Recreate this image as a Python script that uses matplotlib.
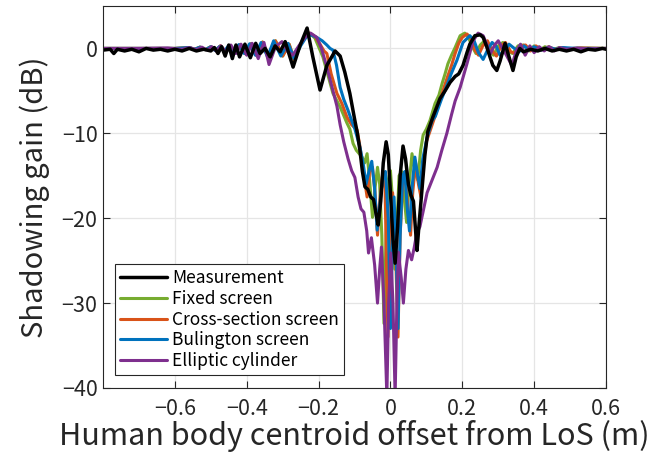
import matplotlib
matplotlib.use("Agg")
import matplotlib.pyplot as plt

plt.rcParams['font.family'] = ['Noto Sans CJK JP', 'DejaVu Sans']

# Measurement (black)
meas_x = [-0.80, -0.78, -0.77, -0.76, -0.74, -0.72, -0.70, -0.68, -0.66, -0.64, -0.62, -0.60,
          -0.58, -0.56, -0.54, -0.52, -0.50, -0.49, -0.48, -0.47, -0.46, -0.45, -0.44, -0.43,
          -0.42, -0.405, -0.39, -0.375, -0.363, -0.349, -0.335, -0.321, -0.307, -0.293, -0.271,
          -0.252, -0.232, -0.216, -0.196, -0.177, -0.154, -0.140, -0.127, -0.113, -0.099, -0.092,
          -0.085, -0.078, -0.071, -0.063, -0.055, -0.047, -0.040, -0.034, -0.027, -0.020, -0.012,
          -0.006, 0.000, 0.007, 0.013, 0.020, 0.027, 0.035, 0.042, 0.050, 0.057, 0.064, 0.070,
          0.074, 0.080, 0.088, 0.096, 0.104, 0.118, 0.138, 0.152, 0.166, 0.180, 0.190, 0.202,
          0.213, 0.221, 0.235, 0.250, 0.258, 0.268, 0.277, 0.285, 0.296, 0.305, 0.319, 0.330,
          0.341, 0.350, 0.360, 0.370, 0.39, 0.41, 0.43, 0.45, 0.47, 0.49, 0.51, 0.53, 0.55,
          0.57, 0.59, 0.60]
meas_y = [-0.2, -0.1, -0.6, -0.1, -0.3, -0.1, -0.4, 0.0, -0.2, -0.1, -0.3, -0.1,
          -0.3, 0.0, -0.3, -0.1, -0.3, 0.1, -0.6, 0.2, -0.9, 0.4, -1.2, 0.4,
          -1.0, 0.5, -1.1, 0.6, -0.6, 0.0, -1.0, 0.3, -0.4, 0.8, -2.2,
          0.3, 2.4, -1.0, -4.9, -2.0, -0.3, -0.9, -2.8, -5.3, -8.5, -10.0,
          -12.0, -14.5, -16.3, -16.6, -17.5, -17.8, -19.5, -20.8, -18.0, -13.5, -11.0,
          -12.5, -17.0, -22.5, -25.3, -21.0, -15.0, -11.5, -13.0, -16.0, -17.3, -18.0, -21.5,
          -23.8, -20.5, -16.5, -12.5, -9.8, -8.1, -5.9, -5.0, -4.0, -3.3, -3.0, -2.0,
          -0.5, 0.5, 1.5, 1.6, 1.3, 0.2, -1.0, -2.0, -2.6, -1.5, 0.6, -1.0,
          -2.6, -1.0, 0.0, -0.4, -0.1, -0.3, 0.0, -0.3, -0.1, -0.3, -0.1, -0.4, -0.1,
          -0.2, 0.0, -0.1]

# Fixed screen (green)
fixed_x = [-0.80, -0.60, -0.56, -0.545, -0.53, -0.515, -0.50, -0.487, -0.473, -0.46, -0.447,
           -0.433, -0.418, -0.403, -0.388, -0.372, -0.356, -0.338, -0.32, -0.30, -0.282, -0.268,
           -0.252, -0.238, -0.225, -0.21, -0.196, -0.188, -0.175, -0.16, -0.14, -0.121, -0.113,
           -0.104, -0.095, -0.085, -0.079, -0.072, -0.065, -0.058, -0.050, -0.043, -0.036, -0.030,
           -0.024, -0.018, -0.012, -0.006, 0.000, 0.006, 0.012, 0.018, 0.024, 0.031, 0.038,
           0.045, 0.052, 0.060, 0.068, 0.076, 0.084, 0.091, 0.100, 0.110, 0.124, 0.135, 0.144,
           0.152, 0.160, 0.170, 0.180, 0.194, 0.207, 0.216, 0.228, 0.238, 0.250, 0.262, 0.275,
           0.287, 0.300, 0.313, 0.327, 0.340, 0.355, 0.370, 0.385, 0.40, 0.415, 0.43, 0.45,
           0.47, 0.49, 0.52, 0.60]
fixed_y = [0.0, 0.0, 0.1, -0.1, 0.15, -0.15, 0.2, -0.25, 0.3, -0.35, 0.35,
           -0.5, 0.45, -0.65, 0.55, -0.85, 0.75, -1.0, 0.9, -0.9, 0.5, -1.3,
           0.3, 1.4, 1.8, 1.2, -0.2, -1.0, -3.0, -5.3, -6.9, -8.8, -9.5,
           -11.2, -12.0, -12.5, -12.8, -13.5, -12.4, -15.5, -19.9, -16.5, -14.0, -16.0,
           -22.0, -32.4, -22.0, -15.5, -14.4, -18.0, -26.0, -21.0, -15.0, -14.5, -17.5,
           -20.5, -16.0, -12.4, -14.5, -15.5, -12.0, -10.2, -9.5, -8.5, -6.5, -5.5, -4.1,
           -3.0, -1.8, -0.8, 0.1, 1.5, 1.8, 1.4, 0.2, -0.6, 0.4, 0.9, -0.3,
           -0.8, 0.3, 0.7, -0.3, -0.6, 0.3, 0.4, -0.3, 0.3, -0.2, 0.2, -0.15,
           0.1, -0.1, 0.05, 0.0]

# Cross-section screen (orange)
cross_x = [-0.80, -0.60, -0.56, -0.545, -0.53, -0.515, -0.50, -0.487, -0.473, -0.46, -0.447,
           -0.433, -0.418, -0.403, -0.388, -0.372, -0.356, -0.338, -0.32, -0.30, -0.282, -0.268,
           -0.252, -0.238, -0.225, -0.21, -0.196, -0.185, -0.177, -0.165, -0.149, -0.135, -0.121,
           -0.108, -0.093, -0.085, -0.076, -0.065, -0.058, -0.050, -0.043, -0.036, -0.030, -0.022,
           -0.015, -0.007, -0.002, 0.006, 0.013, 0.021, 0.027, 0.034, 0.042, 0.050, 0.056,
           0.062, 0.070, 0.078, 0.085, 0.092, 0.100, 0.112, 0.124, 0.135, 0.150, 0.160, 0.170,
           0.180, 0.190, 0.200, 0.213, 0.224, 0.235, 0.245, 0.257, 0.270, 0.282, 0.295, 0.308,
           0.320, 0.335, 0.348, 0.362, 0.376, 0.39, 0.405, 0.42, 0.44, 0.46, 0.48, 0.50,
           0.53, 0.60]
cross_y = [0.0, 0.0, 0.1, -0.1, 0.15, -0.15, 0.2, -0.25, 0.3, -0.35, 0.35,
           -0.5, 0.45, -0.65, 0.55, -0.85, 0.75, -1.0, 0.9, -0.9, 0.5, -1.3,
           0.3, 1.4, 1.8, 1.4, 0.5, -0.3, -0.6, -3.0, -5.3, -6.5, -8.1,
           -9.0, -9.6, -11.5, -14.3, -17.5, -14.5, -14.0, -17.0, -22.0, -18.0, -15.0,
           -16.5, -34.0, -22.0, -17.0, -22.0, -34.0, -22.0, -16.0, -15.5, -19.5, -22.0,
           -17.0, -13.5, -16.0, -17.5, -13.5, -11.0, -9.5, -8.0, -6.5, -4.5, -3.2, -2.0,
           -0.6, 0.6, 1.3, 1.7, 1.2, -0.2, -0.8, 0.3, 0.9, -0.2, -0.9, 0.3,
           0.7, -0.4, -0.6, 0.3, 0.4, -0.3, 0.3, -0.2, 0.2, -0.15, 0.1, -0.1,
           0.05, 0.0]

# Bulington screen (blue)
bul_x = [-0.80, -0.60, -0.56, -0.545, -0.53, -0.515, -0.50, -0.488, -0.475, -0.462, -0.45,
         -0.436, -0.422, -0.407, -0.392, -0.376, -0.360, -0.342, -0.325, -0.305, -0.285, -0.268,
         -0.250, -0.235, -0.222, -0.205, -0.19, -0.177, -0.168, -0.16, -0.150, -0.140, -0.130,
         -0.118, -0.108, -0.099, -0.093, -0.085, -0.075, -0.068, -0.060, -0.052, -0.044, -0.037,
         -0.030, -0.022, -0.014, -0.006, 0.000, 0.005, 0.010, 0.016, 0.021, 0.027, 0.034,
         0.040, 0.047, 0.053, 0.060, 0.068, 0.076, 0.082, 0.090, 0.102, 0.116, 0.125, 0.141,
         0.155, 0.169, 0.185, 0.202, 0.221, 0.232, 0.245, 0.258, 0.270, 0.283, 0.295, 0.305,
         0.318, 0.330, 0.345, 0.358, 0.372, 0.386, 0.40, 0.42, 0.44, 0.46, 0.48, 0.52, 0.60]
bul_y = [0.0, 0.0, 0.1, -0.1, 0.15, -0.15, 0.2, -0.25, 0.25, -0.3, 0.35,
         -0.45, 0.45, -0.6, 0.55, -0.8, 0.7, -1.0, 0.9, -0.9, 0.6, -1.2,
         0.3, 1.3, 1.6, 1.3, 0.9, 0.4, 0.0, -0.2, -2.0, -4.6, -6.0,
         -7.3, -8.5, -9.5, -10.4, -11.6, -13.8, -16.0, -14.5, -13.3, -16.5, -21.4,
         -18.5, -15.5, -14.5, -20.0, -33.0, -24.0, -17.5, -24.0, -33.0, -22.0, -15.0,
         -14.5, -19.0, -21.5, -16.5, -12.8, -15.0, -16.5, -13.0, -10.5, -8.5, -8.0, -6.1,
         -4.6, -3.0, -1.4, 0.7, 1.5, 1.0, -0.5, -1.3, -0.2, 0.7, 0.2, -0.8,
         -0.3, 0.5, 0.0, -0.4, 0.3, -0.2, 0.2, -0.2, 0.15, -0.1, 0.1, 0.0, 0.0]

# Elliptic cylinder (purple)
ell_x = [-0.80, -0.70, -0.62, -0.58, -0.56, -0.54, -0.525, -0.51, -0.497, -0.485, -0.472,
         -0.458, -0.444, -0.430, -0.416, -0.400, -0.385, -0.368, -0.352, -0.338, -0.32, -0.302,
         -0.285, -0.272, -0.255, -0.238, -0.222, -0.205, -0.192, -0.177, -0.163, -0.149, -0.140,
         -0.130, -0.118, -0.108, -0.099, -0.090, -0.082, -0.074, -0.066, -0.061, -0.053, -0.044,
         -0.036, -0.030, -0.025, -0.018, -0.010, -0.005, 0.001, 0.007, 0.013, 0.018, 0.022,
         0.030, 0.036, 0.043, 0.050, 0.059, 0.066, 0.073, 0.082, 0.092, 0.102, 0.116, 0.130,
         0.143, 0.157, 0.170, 0.180, 0.194, 0.213, 0.230, 0.244, 0.258, 0.268, 0.277, 0.290,
         0.300, 0.315, 0.338, 0.350, 0.362, 0.375, 0.388, 0.400, 0.414, 0.428, 0.442, 0.456,
         0.470, 0.49, 0.52, 0.55, 0.60]
ell_y = [0.0, 0.0, 0.05, -0.1, 0.1, -0.15, 0.15, -0.2, 0.2, -0.3, 0.3,
         -0.4, 0.4, -0.6, 0.5, -0.8, 0.6, -1.2, 0.7, -1.9, 0.2, 0.8,
         -0.4, -0.8, 0.3, 1.3, 1.8, 1.3, 0.0, -2.2, -4.5, -6.8, -9.0,
         -11.0, -13.0, -14.4, -15.2, -17.5, -18.9, -19.3, -21.5, -24.1, -22.3, -25.5,
         -30.0, -26.0, -23.4, -30.0, -41.0, -30.0, -24.1, -30.0, -41.0, -30.0, -24.0,
         -27.0, -30.0, -26.0, -23.8, -24.9, -23.5, -21.8, -21.0, -19.0, -17.0, -15.5, -14.0,
         -12.0, -10.0, -7.8, -6.2, -4.6, -1.8, 0.9, 1.8, 1.5, 0.5, -0.7, 0.4,
         0.9, -0.2, -2.0, -0.3, 0.5, -0.8, 0.3, -0.5, 0.2, -0.3, 0.2, -0.3,
         0.1, -0.1, 0.05, -0.05, 0.0]

fig = plt.figure(figsize=(6.57, 4.70), dpi=100)
ax = fig.add_axes([0.1568, 0.1745, 0.7656, 0.8128])

lw = 2.2
kw = dict(solid_joinstyle='round', solid_capstyle='round')
l_fix, = ax.plot(fixed_x, fixed_y, color='#77AC30', lw=lw, label='Fixed screen', **kw)
l_cro, = ax.plot(cross_x, cross_y, color='#D95319', lw=lw, label='Cross-section screen', **kw)
l_bul, = ax.plot(bul_x, bul_y, color='#0072BD', lw=lw, label='Bulington screen', **kw)
l_ell, = ax.plot(ell_x, ell_y, color='#7E2F8E', lw=lw, label='Elliptic cylinder', **kw)
l_mea, = ax.plot(meas_x, meas_y, color='black', lw=2.5, label='Measurement', **kw)

ax.set_xlim(-0.8, 0.6)
ax.set_ylim(-40, 5)
ax.set_xticks([-0.6, -0.4, -0.2, 0, 0.2, 0.4, 0.6])
ax.set_xticklabels(['\u22120.6', '\u22120.4', '\u22120.2', '0', '0.2', '0.4', '0.6'])
ax.set_yticks([-40, -30, -20, -10, 0])
ax.set_yticklabels(['\u221240', '\u221230', '\u221220', '\u221210', '0'])
ax.grid(True, color='#e5e5e5', lw=0.9)
ax.set_axisbelow(True)
ax.tick_params(direction='in', top=True, right=True, length=5, width=0.8,
               labelsize=15.5, colors='#262626', pad=4)
ax.tick_params(axis='x', pad=7)
for s in ax.spines.values():
    s.set_color('#262626')
    s.set_linewidth(0.8)

ax.set_xlabel('Human body centroid offset from LoS (m)', fontsize=22, color='#262626', labelpad=0)
ax.set_ylabel('Shadowing gain (dB)', fontsize=21, color='#262626', labelpad=8)

leg = ax.legend(handles=[l_mea, l_fix, l_cro, l_bul, l_ell], loc='lower left',
                bbox_to_anchor=(0.024, 0.034), borderaxespad=0, fontsize=12.5,
                handlelength=2.7, handletextpad=0.3, labelspacing=0.15,
                borderpad=0.3, fancybox=False, framealpha=1)
leg.get_frame().set_edgecolor('#262626')
leg.get_frame().set_linewidth(0.8)

fig.savefig('out.png', dpi=100)
